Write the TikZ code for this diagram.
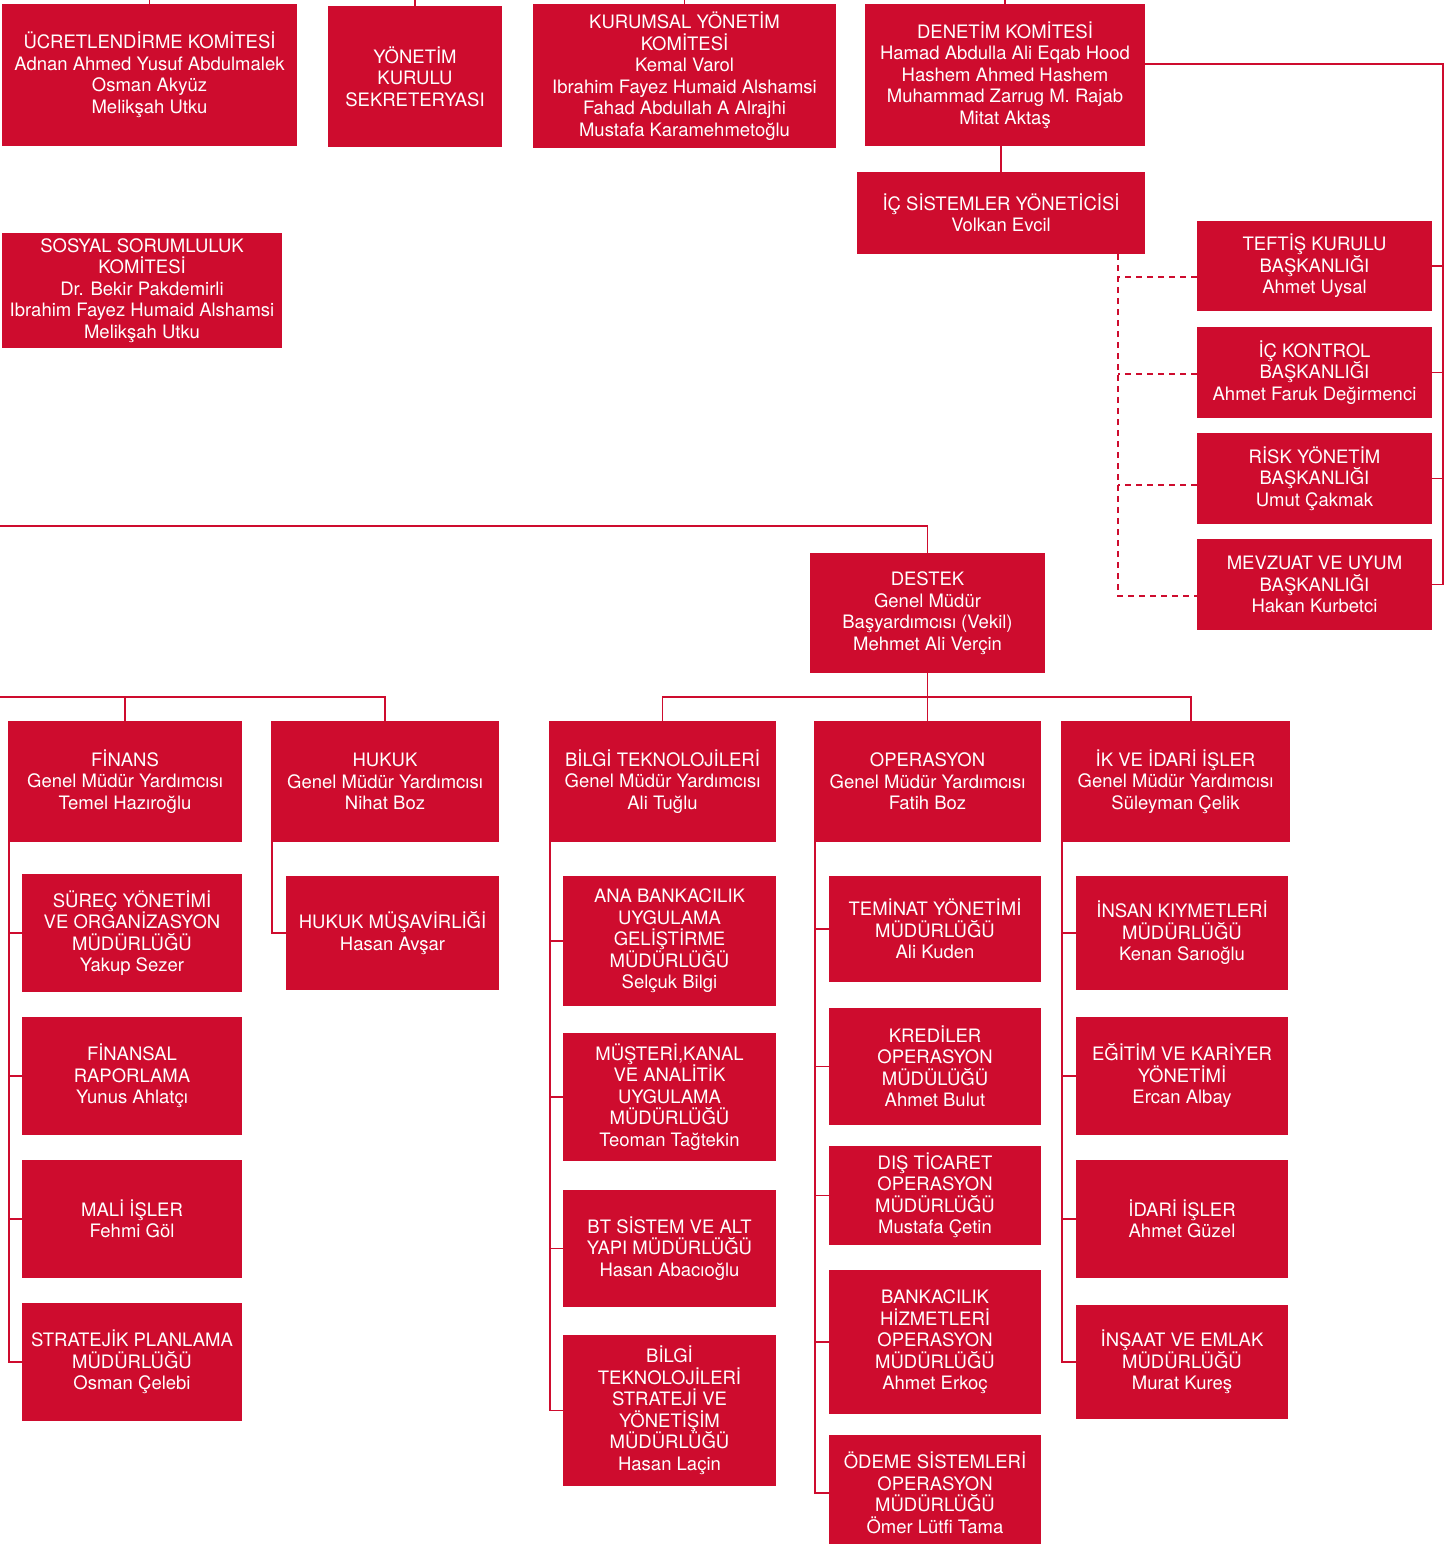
\documentclass[tikz,border=0pt]{standalone}
\usepackage{fontspec}
\setmainfont{TeX Gyre Heros}
\usepackage{xcolor}
\usepackage{tikz}
\usetikzlibrary{calc}
\definecolor{kurumred}{RGB}{206,12,46}

\begin{document}
\begin{tikzpicture}[x=1pt,y=-1pt,
	orgbox/.style 2 args={fill=kurumred,text=white,align=center,inner sep=0pt,minimum width=#1pt,minimum height=#2pt,font=\fontsize{18.5}{21.5}\selectfont},
	orgline/.style={kurumred,line width=1.8pt},
	dashline/.style={kurumred,line width=1.8pt,dash pattern=on 6pt off 5pt}]
		\useasboundingbox (0,0) rectangle (1445,1544);
		\fill[white] (0,0) rectangle (1445,1544);
		\coordinate (ust) at (0,0);
		\coordinate (ray) at (1443,64);
		\coordinate (kesik) at (1118,254);
		\coordinate (sol) at (0,526);
		\coordinate (bara) at (0,697);

		\node[orgbox={295}{142}] (ucret) at (149.5,75) {ÜCRETLENDİRME KOMİTESİ\\Adnan Ahmed Yusuf Abdulmalek\\Osman Akyüz\\Melikşah Utku};
		\node[orgbox={174}{141}] (sekreterya) at (415,76.5) {YÖNETİM\\KURULU\\SEKRETERYASI};
		\node[orgbox={303}{144}] (kurumsal) at (684.5,76) {KURUMSAL YÖNETİM\\KOMİTESİ\\Kemal Varol\\Ibrahim Fayez Humaid Alshamsi\\Fahad Abdullah A Alrajhi\\Mustafa Karamehmetoğlu};
		\node[orgbox={280}{142}] (denetim) at (1005,75) {DENETİM KOMİTESİ\\Hamad Abdulla Ali Eqab Hood\\Hashem Ahmed Hashem\\Muhammad Zarrug M. Rajab\\Mitat Aktaş};
		\node[orgbox={288}{82}] (icsistem) at (1001,213) {İÇ SİSTEMLER YÖNETİCİSİ\\Volkan Evcil};
		\node[orgbox={280}{115}] (sosyal) at (142,290.5) {SOSYAL SORUMLULUK\\KOMİTESİ\\Dr. Bekir Pakdemirli\\Ibrahim Fayez Humaid Alshamsi\\Melikşah Utku};

		\node[orgbox={235}{90}] (teftis) at (1314.5,266) {TEFTİŞ KURULU\\BAŞKANLIĞI\\Ahmet Uysal};
		\node[orgbox={235}{91}] (ickontrol) at (1314.5,372.5) {İÇ KONTROL\\BAŞKANLIĞI\\Ahmet Faruk Değirmenci};
		\node[orgbox={235}{91}] (risk) at (1314.5,478.5) {RİSK YÖNETİM\\BAŞKANLIĞI\\Umut Çakmak};
		\node[orgbox={235}{91}] (mevzuat) at (1314.5,584.5) {MEVZUAT VE UYUM\\BAŞKANLIĞI\\Hakan Kurbetci};

		\node[orgbox={235}{120}] (destek) at (927.5,613) {DESTEK\\Genel Müdür\\Başyardımcısı (Vekil)\\Mehmet Ali Verçin};

		\node[orgbox={234}{121}] (finans) at (125,781.5) {FİNANS\\Genel Müdür Yardımcısı\\Temel Hazıroğlu};
		\node[orgbox={228}{121}] (hukuk) at (385,781.5) {HUKUK\\Genel Müdür Yardımcısı\\Nihat Boz};
		\node[orgbox={227}{121}] (bilgi) at (662.5,781.5) {BİLGİ TEKNOLOJİLERİ\\Genel Müdür Yardımcısı\\Ali Tuğlu};
		\node[orgbox={227}{121}] (operasyon) at (927.5,781.5) {OPERASYON\\Genel Müdür Yardımcısı\\Fatih Boz};
		\node[orgbox={229}{121}] (ik) at (1175.5,781.5) {İK VE İDARİ İŞLER\\Genel Müdür Yardımcısı\\Süleyman Çelik};

		\node[orgbox={220}{118}] (surec) at (132,933) {SÜREÇ YÖNETİMİ\\VE ORGANİZASYON\\MÜDÜRLÜĞÜ\\Yakup Sezer};
		\node[orgbox={220}{118}] (finansal) at (132,1076) {FİNANSAL\\RAPORLAMA\\Yunus Ahlatçı};
		\node[orgbox={220}{118}] (mali) at (132,1219) {MALİ İŞLER\\Fehmi Göl};
		\node[orgbox={220}{118}] (stratejik) at (132,1362) {STRATEJİK PLANLAMA\\MÜDÜRLÜĞÜ\\Osman Çelebi};

		\node[orgbox={213}{114}] (hukukmus) at (392.5,933) {HUKUK MÜŞAVİRLİĞİ\\Hasan Avşar};

		\node[orgbox={213}{130}] (anabank) at (669.5,941) {ANA BANKACILIK\\UYGULAMA\\GELİŞTİRME\\MÜDÜRLÜĞÜ\\Selçuk Bilgi};
		\node[orgbox={213}{128}] (musteri) at (669.5,1097) {MÜŞTERİ,KANAL\\VE ANALİTİK\\UYGULAMA\\MÜDÜRLÜĞÜ\\Teoman Tağtekin};
		\node[orgbox={213}{117}] (btsistem) at (669.5,1248.5) {BT SİSTEM VE ALT\\YAPI MÜDÜRLÜĞÜ\\Hasan Abacıoğlu};
		\node[orgbox={213}{151}] (bilgistr) at (669.5,1410.5) {BİLGİ\\TEKNOLOJİLERİ\\STRATEJİ VE\\YÖNETİŞİM\\MÜDÜRLÜĞÜ\\Hasan Laçin};

		\node[orgbox={212}{106}] (teminat) at (935,929) {TEMİNAT YÖNETİMİ\\MÜDÜRLÜĞÜ\\Ali Kuden};
		\node[orgbox={212}{117}] (krediler) at (935,1066.5) {KREDİLER\\OPERASYON\\MÜDÜLÜĞÜ\\Ahmet Bulut};
		\node[orgbox={212}{99}] (disticaret) at (935,1195.5) {DIŞ TİCARET\\OPERASYON\\MÜDÜRLÜĞÜ\\Mustafa Çetin};
		\node[orgbox={212}{144}] (bankacilik) at (935,1342) {BANKACILIK\\HİZMETLERİ\\OPERASYON\\MÜDÜRLÜĞÜ\\Ahmet Erkoç};
		\node[orgbox={212}{116}] (odeme) at (935,1493) {ÖDEME SİSTEMLERİ\\OPERASYON\\MÜDÜRLÜĞÜ\\Ömer Lütfi Tama};

		\node[orgbox={212}{114}] (insan) at (1182,933) {İNSAN KIYMETLERİ\\MÜDÜRLÜĞÜ\\Kenan Sarıoğlu};
		\node[orgbox={212}{118}] (egitim) at (1182,1076) {EĞİTİM VE KARİYER\\YÖNETİMİ\\Ercan Albay};
		\node[orgbox={212}{118}] (idari) at (1182,1219) {İDARİ İŞLER\\Ahmet Güzel};
		\node[orgbox={212}{114}] (insaat) at (1182,1362) {İNŞAAT VE EMLAK\\MÜDÜRLÜĞÜ\\Murat Kureş};

		\foreach \n in {ucret,sekreterya,kurumsal,denetim}
			\draw[orgline] (\n.north) -- (\n.north |- ust);
		\draw[orgline] (icsistem.north |- denetim.south) -- (icsistem.north);
		\draw[orgline] (denetim.east |- ray) -- (ray) -- (ray |- mevzuat.east) -- (mevzuat.east);
		\foreach \n in {teftis,ickontrol,risk}
			\draw[orgline] (\n.east) -- (\n.east -| ray);

		\draw[dashline] (kesik) |- ([yshift=-11.5pt]mevzuat.west);
		\draw[dashline] ([yshift=-11pt]teftis.west) -- ([yshift=-11pt]teftis.west -| kesik);
		\draw[dashline] ([yshift=-1.5pt]ickontrol.west) -- ([yshift=-1.5pt]ickontrol.west -| kesik);
		\draw[dashline] ([yshift=-6.5pt]risk.west) -- ([yshift=-6.5pt]risk.west -| kesik);

		\draw[orgline] (sol) -| (destek.north);
		\draw[orgline] (destek.south) -- (destek.south |- bara);
		\draw[orgline] (bilgi.north) |- ([xshift=15.5pt]ik.north |- bara) -- ([xshift=15.5pt]ik.north);
		\draw[orgline] (operasyon.north) -- (operasyon.north |- bara);
		\draw[orgline] (bara) -| (hukuk.north);
		\draw[orgline] (finans.north) -- (finans.north |- bara);

		\foreach \n in {surec,finansal,mali,stratejik}
			\draw[orgline] ([xshift=1.5pt]finans.south west) |- (\n.west);
		\draw[orgline] ([xshift=1.5pt]hukuk.south west) |- (hukukmus.west);
		\foreach \n in {anabank,musteri,btsistem,bilgistr}
			\draw[orgline] ([xshift=1.5pt]bilgi.south west) |- (\n.west);
		\foreach \n in {teminat,krediler,disticaret,bankacilik,odeme}
			\draw[orgline] ([xshift=1.5pt]operasyon.south west) |- (\n.west);
		\foreach \n in {insan,egitim,idari,insaat}
			\draw[orgline] ([xshift=1.5pt]ik.south west) |- (\n.west);
	\end{tikzpicture}
\end{document}
